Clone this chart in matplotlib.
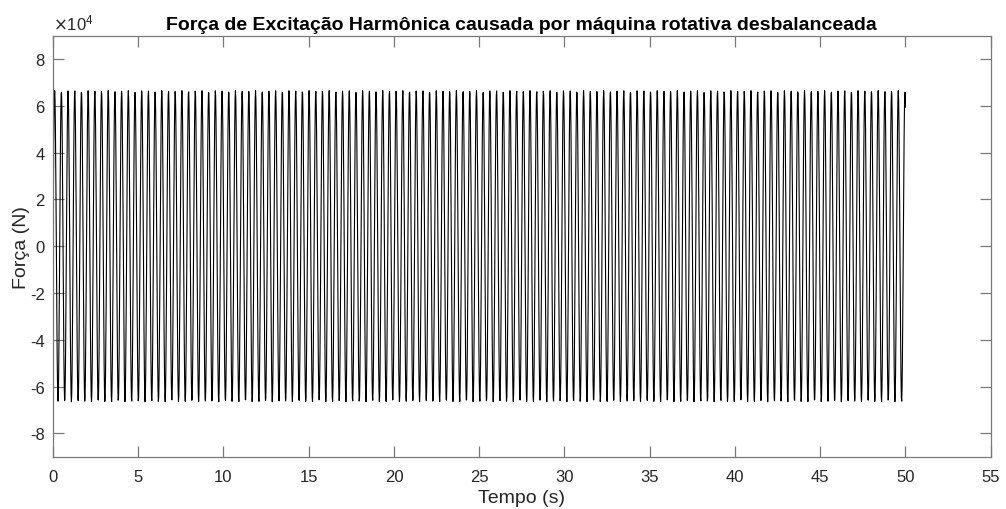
import numpy as np
import matplotlib
matplotlib.use("Agg")
import matplotlib.pyplot as plt
from matplotlib.ticker import FuncFormatter

# --- data ---
amplitude_N = 6.65e4        # peak force
omega_rad_s = 16.0          # excitation frequency
t_end_s = 50.0
dt_s = 0.02
time_s = np.arange(0.0, t_end_s + dt_s / 2, dt_s)
force_N = amplitude_N * np.sin(omega_rad_s * time_s)

x_ticks = [0, 5, 10, 15, 20, 25, 30, 35, 40, 45, 50, 55]
y_ticks = [-8e4, -6e4, -4e4, -2e4, 0, 2e4, 4e4, 6e4, 8e4]

plt.rcParams['font.family'] = ['Liberation Sans', 'DejaVu Sans']

fig = plt.figure(figsize=(10.06, 5.10), dpi=100)
ax = fig.add_axes([53 / 1006, 1 - 457.7 / 510, (990.7 - 53) / 1006, (457.7 - 36.7) / 510])

ax.plot(time_s, force_N, color='black', linewidth=0.8)

ax.set_xlim(0, 55)
ax.set_ylim(-9e4, 9e4)
ax.set_xticks(x_ticks)
ax.set_yticks(y_ticks)
ax.yaxis.set_major_formatter(FuncFormatter(lambda v, p: f"{v/1e4:g}"))

axis_col = '#7a7a7a'
text_col = '#262626'
for s in ax.spines.values():
    s.set_color(axis_col)
    s.set_linewidth(0.9)
ax.tick_params(direction='in', length=8, width=0.9, color=axis_col,
               labelcolor=text_col, labelsize=12, top=True, right=True)
ax.tick_params(axis='x', pad=8.5)
ax.tick_params(axis='y', pad=6)

ax.set_xlabel('Tempo (s)', fontsize=14, color=text_col, labelpad=4)
ax.set_ylabel('Força (N)', fontsize=14, color=text_col, labelpad=0)
ax.set_title('Força de Excitação Harmônica causada por máquina rotativa desbalanceada',
             fontsize=14, fontweight='bold', color='black', pad=5)
ax.text(0.0, 1.008, r'$\times\mathregular{10^{4}}$', transform=ax.transAxes,
        fontsize=12, color=text_col, ha='left', va='bottom')

fig.savefig('out.png', dpi=100)
